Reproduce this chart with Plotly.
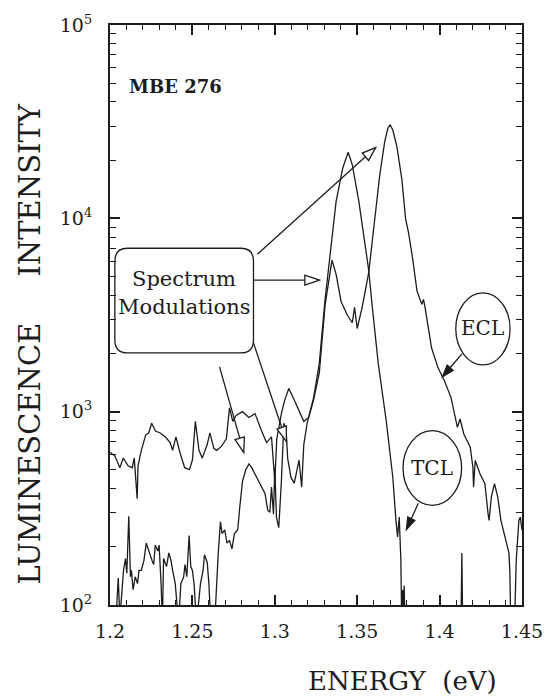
import plotly.graph_objects as go

# ---------------- data ----------------
ecl_energy = [1.200, 1.203, 1.206, 1.208, 1.211, 1.2135, 1.2147, 1.2165, 1.217, 1.219,
              1.2217, 1.2235, 1.2253, 1.2276, 1.2305, 1.2335, 1.2365, 1.238, 1.240, 1.2424,
              1.2453, 1.2482, 1.250, 1.2518, 1.254, 1.256, 1.259, 1.2606, 1.263, 1.2647,
              1.2676, 1.2706, 1.2725, 1.2745, 1.2765, 1.2804, 1.2843, 1.288, 1.292, 1.295,
              1.298, 1.300, 1.3012, 1.3024, 1.304, 1.306, 1.3085, 1.3118, 1.3157, 1.3176,
              1.3206, 1.3235, 1.327, 1.3305, 1.3347, 1.3372, 1.3402, 1.344, 1.347, 1.3484,
              1.350, 1.353, 1.357, 1.3608, 1.3637, 1.3667, 1.3686, 1.370, 1.3716, 1.3741,
              1.3771, 1.3794, 1.3812, 1.3835, 1.3863, 1.3892, 1.3902, 1.3912, 1.3951, 1.399,
              1.4029, 1.4069, 1.4098, 1.4108, 1.4124, 1.4147, 1.4186, 1.4202, 1.4206, 1.4216,
              1.4245, 1.4275, 1.4294, 1.430, 1.4314, 1.4333, 1.4353, 1.4372, 1.4402, 1.4421,
              1.4426, 1.4432, 1.4455, 1.4465, 1.4481, 1.449, 1.450]
ecl_intensity = [617, 589, 513, 575, 525, 513, 575, 355, 525, 631,
                 759, 776, 871, 794, 776, 741, 692, 631, 741, 617,
                 513, 501, 562, 891, 631, 575, 676, 776, 646, 631,
                 661, 724, 1047, 891, 955, 1000, 933, 977, 794, 692,
                 741, 437, 724, 832, 977, 1148, 1318, 1148, 977, 891,
                 933, 1148, 1585, 3548, 6080, 5130, 3715, 3162, 2884, 3467,
                 2692, 3467, 5250, 10000, 16800, 24950, 29240, 30400, 28640, 23500,
                 15900, 9890, 8380, 6300, 4200, 3590, 3810, 3450, 2140, 1690,
                 1445, 1186, 935, 830, 916, 767, 655, 516, 407, 559,
                 477, 424, 297, 274, 361, 424, 361, 274, 216, 185,
                 151, 80, 80, 170, 274, 285, 244]

tcl_energy = [1.200, 1.2035, 1.205, 1.206, 1.2082, 1.2094, 1.2102, 1.2114, 1.2124, 1.213,
              1.214, 1.2153, 1.2167, 1.2176, 1.219, 1.2206, 1.222, 1.2235, 1.2255, 1.2265,
              1.2275, 1.229, 1.2298, 1.231, 1.2318, 1.2325, 1.2343, 1.2357, 1.237, 1.238,
              1.2396, 1.2416, 1.243, 1.2447, 1.2455, 1.2466, 1.248, 1.249, 1.250, 1.251,
              1.2525, 1.2549, 1.2565, 1.2573, 1.259, 1.260, 1.2612, 1.2635, 1.2647, 1.2657,
              1.267, 1.268, 1.2696, 1.271, 1.2725, 1.274, 1.2755, 1.2775, 1.2788, 1.2804,
              1.2824, 1.2843, 1.286, 1.289, 1.292, 1.2941, 1.2957, 1.297, 1.298, 1.2992,
              1.300, 1.301, 1.3024, 1.304, 1.3055, 1.3069, 1.3078, 1.3098, 1.3118, 1.3147,
              1.3163, 1.3176, 1.3196, 1.3235, 1.327, 1.3304, 1.3372, 1.3412, 1.3445, 1.347,
              1.351, 1.3549, 1.3569, 1.3588, 1.3628, 1.3676, 1.3696, 1.3716, 1.3735, 1.3745,
              1.3755, 1.3765, 1.377, 1.3776, 1.378, 1.3785, 1.379, 1.413, 1.4135, 1.414,
              1.450]
tcl_intensity = [80, 80, 138, 85, 151, 174, 146, 288, 140, 151,
                 120, 140, 129, 151, 151, 170, 209, 190, 170, 162,
                 204, 190, 204, 129, 80, 174, 158, 186, 170, 151,
                 129, 80, 129, 140, 162, 140, 229, 158, 151, 129,
                 80, 129, 151, 182, 166, 129, 80, 80, 135, 186,
                 269, 234, 245, 209, 216, 195, 234, 245, 324, 437,
                 501, 537, 513, 457, 407, 376, 309, 302, 407, 295,
                 513, 285, 251, 437, 871, 794, 575, 457, 427, 562,
                 407, 676, 871, 1175, 1778, 3730, 12240, 18160, 21980, 18970,
                 12240, 7350, 5460, 3730, 1766, 900, 655, 458, 274, 225,
                 285, 171, 80, 120, 80, 126, 80, 80, 186, 80,
                 80]

x_tick_vals = [1.2, 1.25, 1.3, 1.35, 1.4, 1.45]
x_tick_text = ["1.2", "1.25", "1.3", "1.35", "1.4", "1.45"]
y_tick_vals = [1e2, 1e3, 1e4, 1e5]
y_tick_text = ["10<sup>2</sup>", "10<sup>3</sup>", "10<sup>4</sup>", "10<sup>5</sup>"]
y_minor_vals = [m * 10 ** e for e in (2, 3, 4) for m in range(2, 10)]

# ---------------- layout geometry (page pixels) ----------------
W, H = 555, 699
L, R, T, B = 110, 535, 23, 605          # plot frame
FONT = "DejaVu Serif"
INK = "#1c1c1c"


def px(x):
    return (x - L) / (R - L)


def py(y):
    return (B - y) / (B - T)


def arrow_shapes(x0, y0, x1, y1, head_len, head_w, filled):
    dx, dy = x1 - x0, y1 - y0
    n = (dx * dx + dy * dy) ** 0.5
    ux, uy = dx / n, dy / n
    bx, by = x1 - ux * head_len, y1 - uy * head_len
    nx, ny = -uy, ux
    p1 = (bx + nx * head_w / 2, by + ny * head_w / 2)
    p2 = (bx - nx * head_w / 2, by - ny * head_w / 2)
    line = dict(type="line", xref="paper", yref="paper",
                x0=px(x0), y0=py(y0), x1=px(bx), y1=py(by),
                line=dict(color=INK, width=1.3))
    path = "M {},{} L {},{} L {},{} Z".format(px(x1), py(y1), px(p1[0]), py(p1[1]),
                                               px(p2[0]), py(p2[1]))
    head = dict(type="path", xref="paper", yref="paper", path=path,
                line=dict(color=INK, width=1.3),
                fillcolor=INK if filled else "white")
    return [line, head]


def rounded_box(x0, y0, x1, y1, r):
    rx, ry = r / (R - L), r / (B - T)
    X0, X1, Y0, Y1 = px(x0), px(x1), py(y1), py(y0)  # Y0 bottom, Y1 top
    p = (f"M {X0+rx},{Y1} L {X1-rx},{Y1} Q {X1},{Y1} {X1},{Y1-ry} "
         f"L {X1},{Y0+ry} Q {X1},{Y0} {X1-rx},{Y0} "
         f"L {X0+rx},{Y0} Q {X0},{Y0} {X0},{Y0+ry} "
         f"L {X0},{Y1-ry} Q {X0},{Y1} {X0+rx},{Y1} Z")
    return dict(type="path", xref="paper", yref="paper", path=p,
                line=dict(color=INK, width=1.3), fillcolor="rgba(0,0,0,0)")


def label(text, x, y, size, angle=0):
    return dict(text=text, x=px(x), y=py(y), xref="paper", yref="paper",
                xanchor="center", yanchor="middle", showarrow=False,
                textangle=angle, font=dict(family=FONT, size=size, color=INK))


fig = go.Figure()
fig.add_trace(go.Scatter(x=ecl_energy, y=ecl_intensity, mode="lines", name="ECL",
                         line=dict(color=INK, width=1.3), showlegend=False))
fig.add_trace(go.Scatter(x=tcl_energy, y=tcl_intensity, mode="lines", name="TCL",
                         line=dict(color=INK, width=1.3), showlegend=False))

shapes = []
shapes.append(rounded_box(115, 247, 258, 352, 13))
shapes += arrow_shapes(262, 253, 384, 146, 14, 10, False)
shapes += arrow_shapes(258, 279, 326, 279, 15, 10, False)
shapes += arrow_shapes(258, 342, 292, 441, 15, 10, False)
shapes += arrow_shapes(223, 366, 248, 452, 15, 10, False)
shapes += arrow_shapes(473, 353, 453, 376, 12, 8, True)
shapes += arrow_shapes(428, 503, 415.7, 529.3, 12, 8, True)
shapes.append(dict(type="circle", xref="paper", yref="paper",
                   x0=px(466.7), x1=px(522.7), y0=py(364), y1=py(291.7),
                   line=dict(color=INK, width=1.3)))
shapes.append(dict(type="circle", xref="paper", yref="paper",
                   x0=px(412.3), x1=px(472.7), y0=py(505), y1=py(430),
                   line=dict(color=INK, width=1.3)))

annotations = [
    label("<b>MBE 276</b>", 178, 85, 18),
    label("Spectrum", 186.5, 278, 21),
    label("Modulations", 186.5, 306, 21),
    label("ECL", 494.7, 327.5, 20),
    label("TCL", 442.5, 468, 20),
    label("ENERGY  (eV)", 411.5, 681, 26),
    label("LUMINESCENCE     INTENSITY", 27, 343, 29, -90),
]

fig.update_layout(
    width=W, height=H, autosize=False,
    margin=dict(l=L, r=W - R, t=T, b=H - B),
    paper_bgcolor="white", plot_bgcolor="white",
    shapes=shapes, annotations=annotations,
    font=dict(family=FONT, color=INK),
)
fig.update_xaxes(
    range=[1.2, 1.45], tickmode="array", tickvals=x_tick_vals, ticktext=x_tick_text,
    ticks="inside", ticklen=10, tickwidth=1.5, tickcolor=INK,
    showline=True, linewidth=1.8, linecolor=INK, mirror="ticks",
    showgrid=False, zeroline=False, ticklabeloverflow="allow",
    tickfont=dict(family=FONT, size=19, color=INK), ticklabelstandoff=8,
    minor=dict(ticks="inside", ticklen=5, tickwidth=1.3, tickcolor=INK,
               dtick=0.01, tick0=1.2, showgrid=False),
)
fig.update_yaxes(
    type="log", range=[2, 5], tickmode="array", tickvals=y_tick_vals, ticktext=y_tick_text,
    ticks="inside", ticklen=10, tickwidth=1.5, tickcolor=INK,
    showline=True, linewidth=1.8, linecolor=INK, mirror="ticks",
    showgrid=False, zeroline=False,
    tickfont=dict(family=FONT, size=19, color=INK), ticklabelstandoff=12,
    minor=dict(ticks="inside", ticklen=6, tickwidth=1.3, tickcolor=INK,
               tickmode="array", tickvals=y_minor_vals, showgrid=False),
)

# the page body's default 8 px margin would push the 555x699 figure off the window
fig.write_html("out.html", config={"displayModeBar": False},
               post_script="document.body.style.margin='0px';")
